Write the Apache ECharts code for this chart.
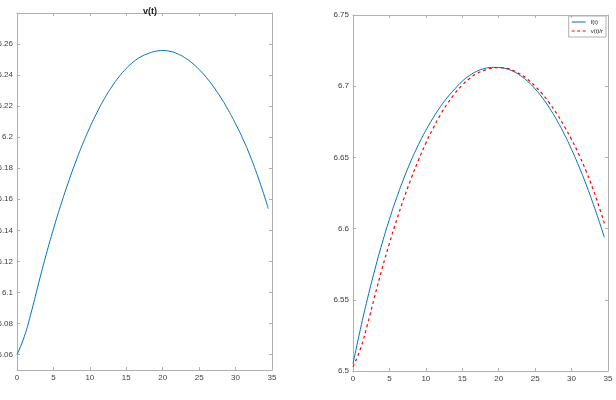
<!DOCTYPE html>
<html>
<head>
<meta charset="utf-8">
<script src="https://cdn.jsdelivr.net/npm/echarts@6/dist/echarts.min.js"></script>
<style>
  html, body { margin: 0; padding: 0; background: #fff; }
  #chart { width: 616px; height: 400px; }
</style>
</head>
<body>
<div id="chart"></div>
<script>
// time samples
const t = [0,1,2,3,4,5,6,7,8,9,10,11,12,13,14,15,16,17,18,19,20,21,22,23,24,25,26,27,28,29,30,31,32,33,34,34.5];
// left panel: v(t)
const vt = [6.0600,6.0715,6.0880,6.1065,6.1243,6.1408,6.1561,6.1703,6.1834,6.1954,6.2063,6.2161,6.2248,6.2324,6.2389,6.2443,
            6.2486,6.2518,6.2539,6.2553,6.2558,6.2553,6.2538,6.2513,6.2479,6.2436,6.2384,6.2323,6.2253,6.2174,6.2086,6.1989,
            6.1879,6.1754,6.1614,6.1539];
// right panel: f(t) and v(t)/r
const ft = [6.5050,6.5290,6.5510,6.5712,6.5897,6.6065,6.6218,6.6356,6.6480,6.6591,6.6690,6.6778,6.6856,6.6924,6.6982,6.7035,
            6.7075,6.7105,6.7123,6.7132,6.7131,6.7123,6.7104,6.7074,6.7033,6.6981,6.6918,6.6844,6.6759,6.6663,6.6556,6.6438,
            6.6309,6.6169,6.6018,6.5938];
const vr = [6.5030,6.5153,6.5330,6.5529,6.5720,6.5897,6.6061,6.6214,6.6354,6.6483,6.6600,6.6705,6.6799,6.6880,6.6950,6.7008,
            6.7054,6.7089,6.7111,6.7126,6.7131,6.7126,6.7110,6.7083,6.7047,6.7000,6.6945,6.6879,6.6804,6.6719,6.6625,6.6521,
            6.6403,6.6269,6.6118,6.6037];

const leftTicks = [6.06,6.08,6.1,6.12,6.14,6.16,6.18,6.2,6.22,6.24,6.26];
const rightTicks = [6.5,6.55,6.6,6.65,6.7,6.75];

const pairs = (ys) => t.map((x, i) => [x, ys[i]]);

const boxColor = '#b0b0b0';
const labelStyle = { color: '#404040', fontSize: 8, fontFamily: 'Liberation Sans' };

function xAx(grid, bottom) {
  return {
    type: 'value', gridIndex: grid, position: bottom ? 'bottom' : 'top',
    min: 0, max: 35, interval: 5,
    axisLine: { show: true, onZero: false, lineStyle: { color: boxColor, width: 1 } },
    axisTick: { show: true, inside: true, length: 3, lineStyle: { color: boxColor } },
    axisLabel: bottom ? Object.assign({ show: true, margin: 4 }, labelStyle) : { show: false },
    splitLine: { show: false }
  };
}

function yAx(grid, left, min, max, ticks) {
  return {
    type: 'value', gridIndex: grid, position: left ? 'left' : 'right',
    min: min, max: max,
    axisLine: { show: true, onZero: false, lineStyle: { color: boxColor, width: 1 } },
    axisTick: { show: true, inside: true, length: 3, customValues: ticks, lineStyle: { color: boxColor } },
    axisLabel: left ? Object.assign({ show: true, margin: 4, customValues: ticks,
      formatter: (v) => String(parseFloat(v.toFixed(2))) }, labelStyle) : { show: false, customValues: ticks },
    splitLine: { show: false }
  };
}

// legend glyphs: plain line, dashed line
const solidIcon = 'path://M0,0H14V1H0Z';
const dashIcon = 'path://M0,0H3V1H0Z M5.5,0H8.5V1H5.5Z M11,0H14V1H11Z';

const chart = echarts.init(document.getElementById('chart'), null, { renderer: 'canvas' });
chart.setOption({
  animation: false,
  backgroundColor: '#fff',
  title: {
    text: 'v(t)', left: 145, top: 2, textAlign: 'center',
    textStyle: { fontSize: 9, fontWeight: 'bold', color: '#222', fontFamily: 'Liberation Sans' }
  },
  legend: {
    data: [{ name: 'f(t)', icon: solidIcon }, { name: 'v(t)/r', icon: dashIcon }],
    orient: 'vertical', right: 10, top: 16,
    itemWidth: 14, itemHeight: 1.2, itemGap: 3,
    padding: [3, 3, 3, 3],
    borderColor: boxColor, borderWidth: 1,
    textStyle: { fontSize: 6, color: '#222', fontFamily: 'Liberation Sans' }
  },
  grid: [
    { left: 17, right: 344, top: 13, bottom: 30, outerBoundsMode: 'none', containLabel: false },
    { left: 353, right: 8, top: 15, bottom: 29, outerBoundsMode: 'none', containLabel: false }
  ],
  xAxis: [xAx(0, true), xAx(0, false), xAx(1, true), xAx(1, false)],
  yAxis: [
    yAx(0, true, 6.05, 6.28, leftTicks), yAx(0, false, 6.05, 6.28, leftTicks),
    yAx(1, true, 6.5, 6.75, rightTicks), yAx(1, false, 6.5, 6.75, rightTicks)
  ],
  series: [
    {
      name: 'v(t)', type: 'line', xAxisIndex: 0, yAxisIndex: 0,
      data: pairs(vt), smooth: true, symbol: 'none',
      lineStyle: { color: '#0072BD', width: 1 }
    },
    {
      name: 'f(t)', type: 'line', xAxisIndex: 2, yAxisIndex: 2,
      data: pairs(ft), smooth: true, symbol: 'none',
      itemStyle: { color: '#0072BD' },
      lineStyle: { color: '#0072BD', width: 1 }
    },
    {
      name: 'v(t)/r', type: 'line', xAxisIndex: 2, yAxisIndex: 2,
      data: pairs(vr), smooth: true, symbol: 'none',
      itemStyle: { color: '#FF0000' },
      lineStyle: { color: '#FF0000', width: 1.2, type: [3, 3] }
    }
  ]
});
</script>
</body>
</html>
